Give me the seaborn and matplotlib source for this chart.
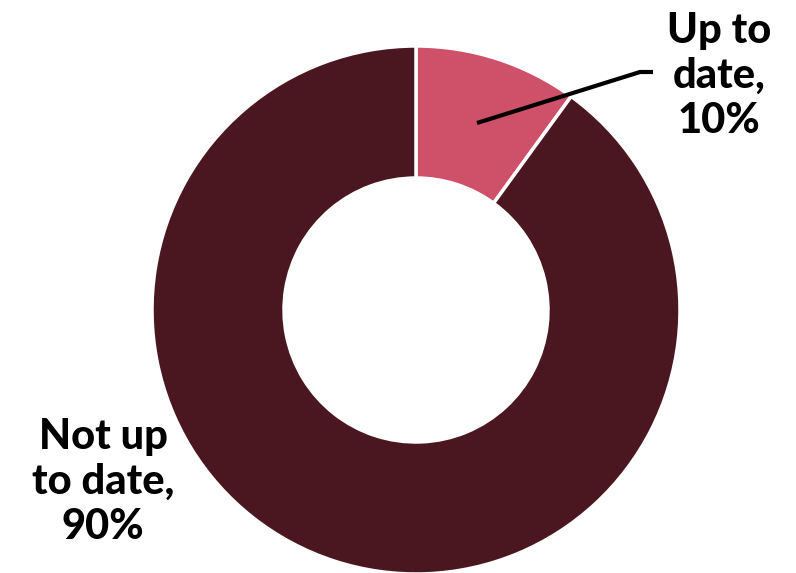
import matplotlib
matplotlib.use("Agg")
import matplotlib.pyplot as plt
import seaborn as sns

sns.set_theme(style="white")
plt.rcParams['font.family'] = ['Lato', 'DejaVu Sans']

categories = ["Up to date", "Not up to date"]
values = [10, 90]
labels = ["Up to\ndate,\n10%", "Not up\nto date,\n90%"]
colors = ["#CF5169", "#4A1721"]

W, H = 796, 573
fig = plt.figure(figsize=(W / 100, H / 100), dpi=100)
ax = fig.add_axes([0, 0, 1, 1])

cx, cy, R = 416, H - 310, 264
wedges, _ = ax.pie(values, colors=colors, startangle=90, counterclock=False,
                   center=(cx, cy), radius=R,
                   wedgeprops=dict(width=R * 0.5, edgecolor="white", linewidth=2.5))
ax.set_xlim(0, W)
ax.set_ylim(0, H)
ax.set_aspect("equal")
ax.axis("off")

# leader line for small slice
ax.plot([477, 640, 653], [H - 123, H - 72, H - 72], color="black", lw=3,
        solid_capstyle="butt")

ax.text(719, H - 76, labels[0], ha="center", va="center", fontsize=30,
        fontweight=900, color="black", linespacing=1.22)
ax.text(103, H - 482, labels[1], ha="center", va="center", fontsize=30,
        fontweight=900, color="black", linespacing=1.22)

fig.savefig("out.png", dpi=100)
